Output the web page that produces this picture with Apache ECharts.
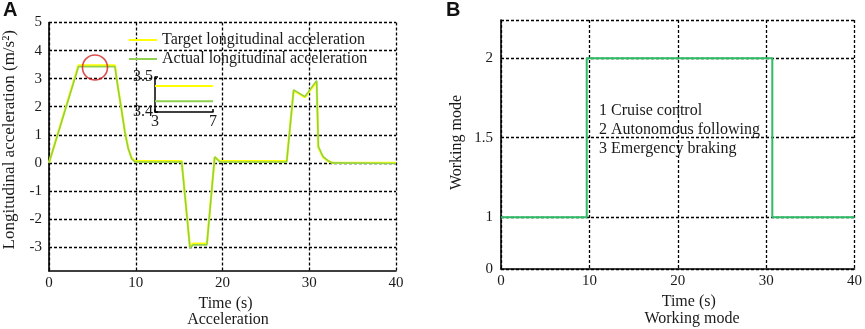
<!DOCTYPE html>
<html>
<head>
<meta charset="utf-8">
<script src="https://cdn.jsdelivr.net/npm/echarts@6/dist/echarts.min.js"></script>
<style>
  html, body { margin: 0; padding: 0; background: #fff; }
  #chart { width: 865px; height: 329px; }
</style>
</head>
<body>
<div id="chart"></div>
<script>
// Panel A: longitudinal acceleration (m/s^2) vs time (s)
const accTime = [0, 3.4, 7.6, 7.87, 8.3, 8.76, 9.14, 9.53, 9.9, 15.3, 16.25, 16.6, 18.2, 19.1, 19.7, 27.4, 28.2, 29.5, 30.85, 31.05, 31.6, 32.2, 32.7, 40]
const targetAcc = [0, 3.47, 3.47, 2.86, 2.02, 1.09, 0.52, 0.17, 0.06, 0.06, -3.0, -2.88, -2.88, 0.2, 0.06, 0.06, 2.58, 2.34, 2.9, 0.55, 0.2, 0.06, 0.0, 0.0]
const actualAcc = [0, 3.43, 3.43, 2.84, 2.0, 1.07, 0.5, 0.15, 0.03, 0.03, -3.04, -2.92, -2.92, 0.22, 0.03, 0.03, 2.6, 2.36, 2.93, 0.58, 0.22, 0.07, 0.0, -0.02]
const accTicks = [-3, -2, -1, 0, 1, 2, 3, 4, 5]
const timeTicks = [0, 10, 20, 30, 40]

// zoomed inset (3-7 s)
const insetTime = [3, 7]
const insetTarget = [3.474, 3.474]
const insetActual = [3.431, 3.431]
const insetYTicks = [3.4, 3.5]
const circleMark = [[5.3, 3.4]]

// Panel B: working mode vs time
const modeTime = [0, 9.7, 30.7, 40]
const modeValue = [1, 2, 1, 1]
const modeTicks = [0.675, 1, 1.5, 2, 2.24]
const modeNotes = ['1 Cruise control', '2 Autonomous following', '3 Emergency braking']

const FONT = 'Liberation Serif'
const TXT = '#1a1a1a'
const dash = { color: '#000', width: 1.3, type: [3, 2] }
const axisLine = { show: true, onZero: false, lineStyle: { color: '#000', width: 1.6 } }
const label = { color: TXT, fontFamily: FONT, fontSize: 15 }
const text16 = { color: TXT, fontFamily: FONT, fontSize: 16 }

const zip = (xs, ys) => xs.map((x, i) => [x, ys[i]])

const chart = echarts.init(document.getElementById('chart'))

chart.setOption({
  animation: false,
  backgroundColor: '#fff',
  grid: [
    { left: 49, top: 22.5, width: 347, height: 248.5 },
    { left: 155, top: 77, width: 58, height: 35 },
    { left: 501, top: 20, width: 356, height: 249 }
  ],
  legend: {
    left: 124, top: 27, orient: 'vertical',
    icon: 'rect', itemWidth: 28, itemHeight: 2, itemGap: 3,
    textStyle: { ...text16, lineHeight: 16 },
    data: ['Target longitudinal acceleration', 'Actual longitudinal acceleration']
  },
  xAxis: [
    {
      gridIndex: 0, type: 'value', min: 0, max: 40,
      axisLine, axisTick: { show: false, customValues: timeTicks },
      axisLabel: { ...label, margin: 5, customValues: timeTicks },
      splitLine: { show: true, lineStyle: dash },
      name: 'Time (s)', nameLocation: 'middle', nameGap: 21,
      nameTextStyle: { ...text16, padding: [0, 0, 0, 6] }
    },
    {
      gridIndex: 1, type: 'value', min: 3, max: 7,
      axisLine: { show: true, onZero: false, lineStyle: { color: '#000', width: 1.5 } },
      axisTick: { show: true, inside: true, length: 3, customValues: insetTime, lineStyle: { color: '#000', width: 1.5 } },
      axisLabel: { ...text16, margin: 2, customValues: insetTime },
      splitLine: { show: false }
    },
    {
      gridIndex: 2, type: 'value', min: 0, max: 40,
      axisLine, axisTick: { show: false, customValues: timeTicks },
      axisLabel: { ...label, margin: 5, customValues: timeTicks },
      splitLine: { show: true, lineStyle: dash },
      name: 'Time (s)', nameLocation: 'middle', nameGap: 21,
      nameTextStyle: { ...text16, padding: [0, 0, 0, 22] }
    }
  ],
  yAxis: [
    {
      gridIndex: 0, type: 'value', min: -3.85, max: 5,
      axisLine, axisTick: { show: false, customValues: accTicks },
      axisLabel: { ...label, margin: 7, customValues: accTicks },
      splitLine: { show: true, lineStyle: dash },
      name: 'Longitudinal acceleration (m/s²)', nameLocation: 'middle', nameGap: 31,
      nameTextStyle: { ...label, fontSize: 17, padding: [0, 0, 0, 14] }
    },
    {
      gridIndex: 1, type: 'value', min: 3.4, max: 3.5,
      axisLine: { show: true, onZero: false, lineStyle: { color: '#000', width: 1.5 } },
      axisTick: { show: true, inside: true, length: 3, customValues: insetYTicks, lineStyle: { color: '#000', width: 1.5 } },
      axisLabel: { ...text16, margin: 2, customValues: insetYTicks, formatter: v => v.toFixed(1) },
      splitLine: { show: false }
    },
    {
      gridIndex: 2, type: 'value', min: 0.675, max: 2.24,
      axisLine, axisTick: { show: false, customValues: modeTicks },
      axisLabel: {
        ...label, margin: 8, customValues: modeTicks,
        formatter: v => (v < 0.9 ? '0' : v > 2.1 ? '' : String(v))
      },
      splitLine: { show: true, lineStyle: dash },
      name: 'Working mode', nameLocation: 'middle', nameGap: 36,
      nameTextStyle: { ...text16, padding: [0, 0, 0, 4] }
    }
  ],
  series: [
    {
      name: 'Target longitudinal acceleration', type: 'line', xAxisIndex: 0, yAxisIndex: 0,
      data: zip(accTime, targetAcc), showSymbol: false, symbol: 'none',
      lineStyle: { color: '#ffff00', width: 2.4 }, itemStyle: { color: '#ffff00' }, z: 3
    },
    {
      name: 'Actual longitudinal acceleration', type: 'line', xAxisIndex: 0, yAxisIndex: 0,
      data: zip(accTime, actualAcc), showSymbol: false, symbol: 'none',
      lineStyle: { color: '#8fd14f', width: 1.6 }, itemStyle: { color: '#8fd14f' }, z: 4
    },
    {
      type: 'scatter', xAxisIndex: 0, yAxisIndex: 0, data: circleMark,
      symbol: 'circle', symbolSize: 25, silent: true,
      itemStyle: { color: 'rgba(0,0,0,0)', borderColor: '#d62020', borderWidth: 1.6 }, z: 5
    },
    {
      type: 'line', xAxisIndex: 1, yAxisIndex: 1, data: zip(insetTime, insetTarget),
      showSymbol: false, symbol: 'none', lineStyle: { color: '#ffff00', width: 2 }
    },
    {
      type: 'line', xAxisIndex: 1, yAxisIndex: 1, data: zip(insetTime, insetActual),
      showSymbol: false, symbol: 'none', lineStyle: { color: '#8fd14f', width: 2 }
    },
    {
      type: 'line', xAxisIndex: 2, yAxisIndex: 2, data: zip(modeTime, modeValue),
      step: 'end', showSymbol: false, symbol: 'none',
      lineStyle: { color: '#2dbb66', width: 2 }, z: 3
    }
  ],
  graphic: [
    { type: 'text', left: 3, top: 0, style: { text: 'A', font: 'bold 20px "Liberation Sans"', fill: '#111' } },
    { type: 'text', left: 446, top: 0, style: { text: 'B', font: 'bold 20px "Liberation Sans"', fill: '#111' } },
    { type: 'text', x: 228, y: 312, style: { text: 'Acceleration', font: '16px "Liberation Serif"', fill: TXT, align: 'center' } },
    { type: 'text', x: 692, y: 311, style: { text: 'Working mode', font: '16px "Liberation Serif"', fill: TXT, align: 'center' } },
    {
      type: 'text', x: 599, y: 101, z: 10,
      style: { text: modeNotes.join('\n'), font: '16px "Liberation Serif"', fill: TXT, lineHeight: 19 }
    }
  ]
})
</script>
</body>
</html>
